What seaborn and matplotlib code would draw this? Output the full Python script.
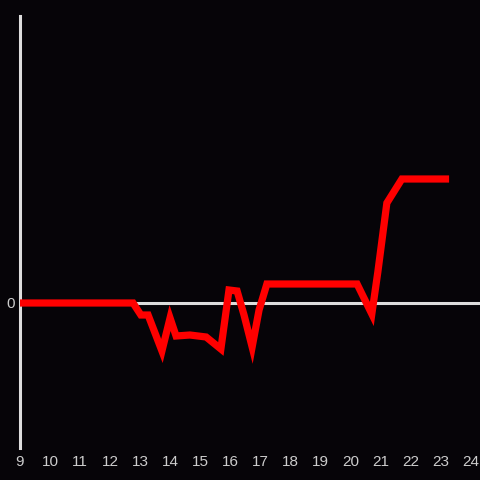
import matplotlib
matplotlib.use("Agg")
import matplotlib.pyplot as plt
import seaborn as sns
import pandas as pd

hours = [9.0, 12.76, 13.02, 13.26, 13.72, 13.99, 14.19, 14.65, 15.19, 15.68,
         15.95, 16.22, 16.45, 16.72, 16.95, 17.21, 20.21, 20.7, 20.9, 21.2,
         21.7, 23.27]
values = [0.0, 0.0, -1.2, -1.2, -4.8, -1.5, -3.3, -3.2, -3.4, -4.6,
          1.3, 1.2, -1.2, -4.4, -0.7, 1.9, 1.9, -1.1, 3.1, 10.0,
          12.4, 12.4]
xticks = list(range(9, 25))

df = pd.DataFrame({"hour": hours, "value": values})

sns.set_style("dark")
plt.rcParams['font.family'] = ['Liberation Sans', 'DejaVu Sans']

bg = '#060408'
fig = plt.figure(figsize=(4.8, 4.8), dpi=100, facecolor=bg)
ax = fig.add_axes([20/480, 32/480, 460/480, 432/480])
ax.set_facecolor(bg)

ax.axhline(0, color='#dddddd', lw=2.2, zorder=1)
sns.lineplot(data=df, x="hour", y="value", ax=ax, color='#ff0000', lw=5.2,
             estimator=None, sort=False, zorder=3,
             solid_capstyle='butt', solid_joinstyle='miter')

ax.set_xlim(9, 9 + 460/30.07)
ax.set_ylim(-14.5, 28.7)
ax.set_xticks(xticks)
ax.set_xticklabels([str(t) for t in xticks])
ax.set_yticks([0])
ax.set_yticklabels(['0'])
ax.tick_params(axis='both', length=0, colors='#cccccc', labelsize=11)
ax.tick_params(axis='x', pad=5)
ax.tick_params(axis='y', pad=4)
ax.set_xlabel('')
ax.set_ylabel('')
ax.grid(False)
for s in ['top', 'right', 'bottom']:
    ax.spines[s].set_visible(False)
ax.spines['left'].set_visible(True)
ax.spines['left'].set_color('#dddddd')
ax.spines['left'].set_linewidth(2.2)

fig.savefig('out.png', dpi=100, facecolor=bg)
